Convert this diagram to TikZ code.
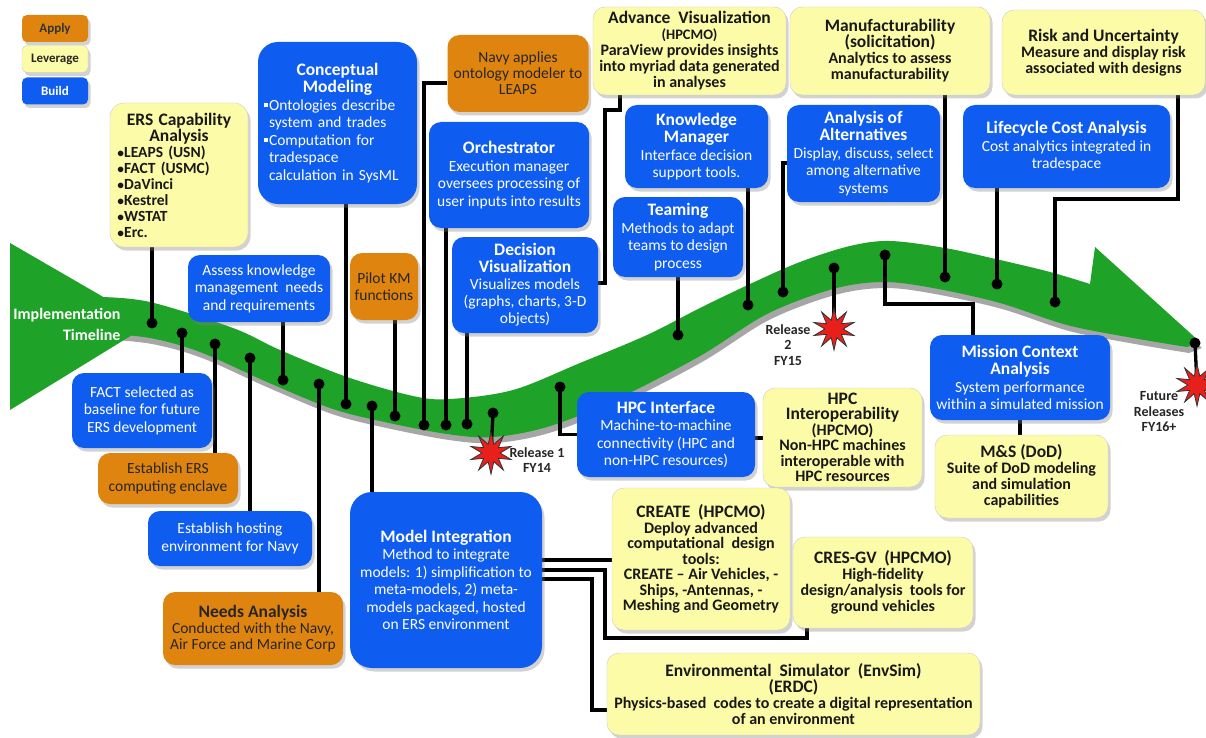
\documentclass[tikz,border=0pt]{standalone}
\usepackage{fontspec}
\setmainfont{Carlito}
\usetikzlibrary{shapes.geometric,shadows,calc}
\definecolor{myblue}{RGB}{14,92,240}
\definecolor{myyellow}{RGB}{252,251,168}
\definecolor{myorange}{RGB}{224,132,16}
\definecolor{mygreen}{RGB}{30,162,40}
\definecolor{starred}{RGB}{232,32,28}
\pgfdeclarelayer{bg}\pgfdeclarelayer{lines}
\pgfsetlayers{bg,lines,main}
\newcommand\mytitle{\bfseries\fontsize{17.5}{18}\selectfont}
\newcommand\ytitle{\fontsize{17.5}{16}\selectfont}
\newcommand\sqb{\raisebox{3pt}{\rule{4pt}{4pt}}\hspace{1.5pt}}
\tikzset{
 rbox/.style={rounded corners=12pt, align=center, inner sep=2pt, drop shadow={shadow xshift=2.5pt, shadow yshift=-3.5pt, opacity=0.35}},
 bluebox/.style={rbox, fill=myblue, text=white, font=\fontsize{15.5}{17.5}\selectfont},
 yellowbox/.style={rbox, fill=myyellow, draw=black!20, text=black!90, font=\bfseries\fontsize{16}{16}\selectfont},
 orangebox/.style={rbox, fill=myorange, text=black!85, font=\fontsize{15.5}{16}\selectfont},
 legendbox/.style={rbox, rounded corners=5pt, minimum width=66pt, minimum height=27pt, font=\bfseries\fontsize{13}{14}\selectfont},
 conn/.style={line width=3.3pt, black},
 rel/.style={font=\bfseries\fontsize{14}{15.5}\selectfont, text=black!85, align=center},
 burst/.style={star, star points=10, star point ratio=2.3, fill=starred, draw=black!80, line width=0.8pt, minimum size=42pt, inner sep=0pt},
}
\newcommand\bandpath{plot[smooth, tension=0.55] coordinates {(100,297) (150,302) (233,328) (280,350) (347,377) (413,396) (450,399) (513,390) (580,363) (647,335) (700,308) (750,284) (800,262) (850,246) (890,241) (945,248) (1000,260) (1050,272) (1090,284)} -- (1095,247) -- (1200,342) -- plot[smooth, tension=0.55] coordinates {(1187,347) (1133,338) (1067,325) (1000,303) (933,288) (883,282) (833,289) (767,314) (700,356) (613,401) (547,427) (493,437) (447,434) (380,421) (330,408) (267,382) (200,352) (150,338) (100,333)} -- cycle}
\begin{document}
\begin{tikzpicture}[x=1pt,y=-1pt]
\useasboundingbox (0,0) rectangle (1206,738);

% ---- band ----
\begin{pgfonlayer}{bg}
\fill[white] (0,0) rectangle (1206,738);
\fill[black!35, shift={(2,6)}] \bandpath;
\fill[mygreen] \bandpath;
\fill[mygreen] (10,243) -- (150,324) -- (10,410) -- cycle;
\end{pgfonlayer}

% ---- legend ----
\node[legendbox, fill=myorange, text=black!80] (lapply) at (55,28.5) {Apply};
\node[legendbox, fill=myyellow, draw=black!20, text=black!85] (llev) at (55,59) {Leverage};
\node[legendbox, fill=myblue, text=white] (lbuild) at (55,91) {Build};

% ---- boxes ----
\node[yellowbox, rounded corners=14pt, minimum width=138pt, minimum height=144pt, text width=124pt, align=left, font=\bfseries\fontsize{15.5}{16}\selectfont] (ers) at (179,175)
 {\makebox[124pt][c]{\fontsize{17.5}{16}\selectfont ERS Capability}\\\makebox[124pt][c]{\fontsize{17.5}{16}\selectfont Analysis}\\$\bullet$LEAPS (USN)\\$\bullet$FACT (USMC)\\$\bullet$DaVinci\\$\bullet$Kestrel\\$\bullet$WSTAT\\$\bullet$Erc.};

\node[bluebox, rounded corners=20pt, minimum width=159pt, minimum height=162pt, text width=148pt, align=left] (cm) at (337.5,123)
 {\makebox[148pt][c]{\mytitle Conceptual}\\\makebox[148pt][c]{\mytitle Modeling}\\\sqb Ontologies describe\\\hspace*{5.5pt}system and trades\\\sqb Computation for\\\hspace*{5.5pt}tradespace\\\hspace*{5.5pt}calculation in SysML};

\node[orangebox, minimum width=141pt, minimum height=77pt] (navy) at (518,73.5) {Navy applies\\ontology modeler to\\LEAPS};
\node[bluebox, minimum width=160pt, minimum height=106pt] (orch) at (509,175) {{\mytitle Orchestrator}\\Execution manager\\oversees processing of\\user inputs into results};
\node[bluebox, minimum width=146pt, minimum height=96pt, font=\fontsize{15.5}{17}\selectfont] (dv) at (525,285) {{\mytitle Decision}\\{\mytitle Visualization}\\Visualizes models\\(graphs, charts, 3-D\\objects)};

\node[yellowbox, minimum width=193pt, minimum height=88pt] (av) at (689.5,51) {{\ytitle Advance\ \ Visualization}\\{\fontsize{14.5}{16}\selectfont (HPCMO)}\\ParaView provides insights\\into myriad data generated\\in analyses};
\node[yellowbox, minimum width=200pt, minimum height=88pt] (mf) at (890,51) {{\ytitle Manufacturability}\\{\ytitle (solicitation)}\\Analytics to assess\\manufacturability};
\node[yellowbox, minimum width=203pt, minimum height=85pt] (risk) at (1103.5,52.5) {{\ytitle Risk and Uncertainty}\\Measure and display risk\\associated with designs};

\node[bluebox, minimum width=143pt, minimum height=83pt] (km) at (696.5,146.5) {{\mytitle Knowledge}\\{\mytitle Manager}\\Interface decision\\support tools.};
\node[bluebox, minimum width=130pt, minimum height=80pt] (team) at (678,237) {{\mytitle Teaming}\\Methods to adapt\\teams to design\\process};
\node[bluebox, minimum width=153pt, minimum height=97pt] (aoa) at (863.5,153.5) {{\mytitle Analysis of}\\{\mytitle Alternatives}\\Display, discuss, select\\among alternative\\systems};
\node[bluebox, minimum width=207pt, minimum height=83pt] (lca) at (1066.5,146.5) {{\mytitle Lifecycle Cost Analysis}\\Cost analytics integrated in\\tradespace};
\node[bluebox, minimum width=180pt, minimum height=85pt] (mca) at (1020,377.5) {{\mytitle Mission Context}\\{\mytitle Analysis}\\System performance\\within a simulated mission};
\node[yellowbox, minimum width=173pt, minimum height=83pt] (ms) at (1021.5,476.5) {{\ytitle M\&S (DoD)}\\Suite of DoD modeling\\and simulation\\capabilities};

\node[bluebox, minimum width=178pt, minimum height=85pt] (hpci) at (666,434.5) {{\mytitle HPC Interface}\\Machine-to-machine\\connectivity (HPC and\\non-HPC resources)};
\node[yellowbox, minimum width=159pt, minimum height=99pt, font=\bfseries\fontsize{16}{15.5}\selectfont] (hpco) at (842.5,437.5) {{\ytitle HPC}\\{\ytitle Interoperability}\\(HPCMO)\\Non-HPC machines\\interoperable with\\HPC resources};
\node[yellowbox, minimum width=178pt, minimum height=142pt, font=\bfseries\fontsize{16}{15.5}\selectfont] (cr) at (701,559) {{\ytitle CREATE\ \ (HPCMO)}\\Deploy advanced\\computational\ \ design\\tools:\\CREATE -- Air Vehicles, -\\Ships, -Antennas, -\\Meshing and Geometry};
\node[yellowbox, minimum width=180pt, minimum height=91pt] (cg) at (883,582.5) {{\ytitle CRES-GV\ \ (HPCMO)}\\High-fidelity\\design/analysis\ \ tools for\\ground vehicles};
\node[yellowbox, minimum width=373pt, minimum height=82pt] (es) at (793.5,694) {{\ytitle Environmental\ \ Simulator\ \ (EnvSim)}\\{\ytitle (ERDC)}\\Physics-based\ \ codes to create a digital representation\\of an environment};

\node[bluebox, rounded corners=22pt, minimum width=192pt, minimum height=176pt] (mi) at (446,580) {{\mytitle Model Integration}\\Method to integrate\\models: 1) simplification to\\meta-models, 2) meta-\\models packaged, hosted\\on ERS environment};
\node[orangebox, minimum width=180pt, minimum height=73pt] (na) at (253,628.5) {{\bfseries\fontsize{17.5}{17}\selectfont Needs Analysis}\\Conducted with the Navy,\\Air Force and Marine Corp};
\node[bluebox, minimum width=164pt, minimum height=55pt] (eh) at (230,538.5) {Establish hosting\\environment for Navy};
\node[orangebox, minimum width=140pt, minimum height=51pt, font=\fontsize{15.5}{17.5}\selectfont] (ee) at (168,478.5) {Establish ERS\\computing enclave};
\node[bluebox, minimum width=140pt, minimum height=75pt] (fs) at (142,410.5) {FACT selected as\\baseline for future\\ERS development};
\node[bluebox, minimum width=142pt, minimum height=67pt] (ak) at (259,288.5) {Assess knowledge\\management\ \ needs\\and requirements};
\node[orangebox, minimum width=68pt, minimum height=67pt, font=\fontsize{15.5}{17.5}\selectfont] (pk) at (384,286.5) {Pilot KM\\functions};

% ---- timeline label ----
\node[align=right, anchor=east, text=white, font=\bfseries\fontsize{16}{21}\selectfont] (itl) at (124,324) {Implementation\\Timeline};

% ---- stars & release labels ----
\node[burst] (r1) at (491,453) {};
\node[burst] (r2) at (834,329) {};
\node[burst] (r3) at (1197,385) {};
\node[rel] (rl1) at (537,460) {Release 1\\FY14};
\node[rel] (rl2) at (788,345) {Release\\2\\FY15};
\node[rel] (rl3) at (1159,412) {Future\\Releases\\FY16+};

% ---- dots ----
\coordinate (d1) at (152,323);
\coordinate (d2) at (182,333);
\coordinate (d3) at (215,344);
\coordinate (d4) at (250,358);
\coordinate (d5) at (283,380);
\coordinate (d6) at (319,384);
\coordinate (d7) at (346,404);
\coordinate (d8) at (372,406);
\coordinate (d9) at (395,416);
\coordinate (d10) at (424,425);
\coordinate (d11) at (446,425);
\coordinate (d12) at (467,424);
\coordinate (d13) at (493,413);
\coordinate (d14) at (560,387);
\coordinate (d15) at (678,335);
\coordinate (d16) at (748,305);
\coordinate (d17) at (783,292);
\coordinate (d18) at (834,268);
\coordinate (d19) at (885,255);
\coordinate (d20) at (945,277);
\coordinate (d21) at (997,284);
\coordinate (d22) at (1055,302);
\coordinate (d23) at (1195,343);

\coordinate (m1) at (973,304);
\coordinate (k1) at (1178,199);
\coordinate (a1) at (620,110);
\coordinate (a2) at (605,283);
\coordinate (h1) at (760,438);
\coordinate (p1) at (560,560);
\coordinate (p2) at (605,570);
\coordinate (p3) at (807,638);
\coordinate (p4) at (592,579);
\coordinate (p5) at (592,710);

\begin{pgfonlayer}{lines}
\draw[conn] (ers.south -| d1) -- (d1);
\draw[conn] (d2) -- (d2 |- fs.north);
\draw[conn] (d3) -- (d3 |- ee.north);
\draw[conn] (d4) -- (d4 |- eh.north);
\draw[conn] (d5) -- (d5 |- ak.south);
\draw[conn] (d6) -- (d6 |- na.north);
\draw[conn] (d7) -- (d7 |- cm.south);
\draw[conn] (d8) -- (d8 |- mi.north);
\draw[conn] (d9) -- (d9 |- pk.south);
\draw[conn] (d10) |- ([yshift=-9.5pt]navy.west);
\draw[conn] (d11) -- (d11 |- orch.south);
\draw[conn] (d12) -- (d12 |- dv.south);
\draw[conn] (d13) -- (r1.center);
\draw[conn] (d14) |- (hpci.west);
\draw[conn] (d15) -- (d15 |- team.south);
\draw[conn] (d16) -- (d16 |- km.south);
\draw[conn] (d17) |- ([yshift=-9.5pt]aoa.west);
\draw[conn] (d18) -- (r2.center);
\draw[conn] (d19) |- (m1) -- (m1 |- mca.north);
\draw[conn] (mf.south -| d20) -- (d20);
\draw[conn] (lca.south -| d21) -- (d21);
\draw[conn] (k1 |- risk.south) -- (k1) -| (d22);
\draw[conn] (d23) -- (r3.center);
\draw[conn] (a1 |- av.south) -- (a1) -| (a2) -- (a2 -| dv.east);
\draw[conn] (h1 -| hpci.east) -- (h1 -| hpco.west);
\draw[conn] (mca.south) -- (mca.south |- ms.north);
\draw[conn] (p1 -| mi.east) -- (p1 -| cr.west);
\draw[conn] (p2 -| mi.east) -- (p2) |- (p3) -- (p3 |- cg.south);
\draw[conn] (p4 -| mi.east) -- (p4) -- (p5) -- (p5 -| es.west);
\foreach \d in {d1,d2,d3,d4,d5,d6,d7,d8,d9,d10,d11,d12,d13,d14,d15,d16,d17,d18,d19,d20,d21,d22,d23}
  \fill (\d) circle (5.5pt);
\end{pgfonlayer}
\end{tikzpicture}
\end{document}
